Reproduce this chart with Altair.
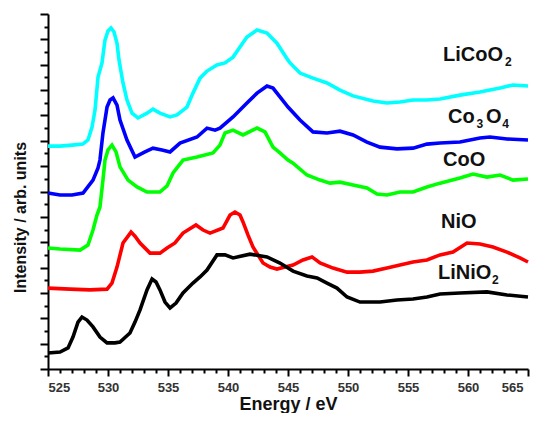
import altair as alt
import pandas as pd

# ---- data (energy in eV, intensity in arbitrary units) ----
licoo2_e = [525.0, 526.0, 527.0, 527.9, 528.33, 528.67, 528.92, 529.17, 529.5, 529.75, 530.0, 530.25,
            530.5, 530.75, 530.92, 531.25, 531.58, 532.0, 532.5, 533.25, 533.75, 534.33, 535.17, 535.75,
            536.58, 537.08, 537.67, 538.25, 539.08, 539.75, 540.42, 541.0, 541.58, 542.42, 543.25, 544.08,
            545.0, 545.17, 546.0, 547.08, 548.25, 549.33, 550.42, 552.08, 553.25, 554.33, 555.42, 556.58,
            557.67, 559.33, 561.0, 562.67, 563.75, 565.0]
licoo2_v = [8.79, 8.79, 8.83, 8.87, 9.03, 9.54, 10.21, 11.51, 12.07, 12.97, 13.33, 13.45,
            13.29, 12.85, 12.18, 11.28, 10.61, 10.09, 9.90, 10.09, 10.25, 10.09, 9.94, 10.02,
            10.33, 10.88, 11.47, 11.75, 11.99, 12.07, 12.30, 12.70, 13.09, 13.37, 13.25, 12.85,
            12.18, 12.07, 11.67, 11.47, 11.28, 11.00, 10.77, 10.57, 10.49, 10.53, 10.61, 10.61,
            10.65, 10.80, 10.92, 11.08, 11.20, 11.16]

co3o4_e = [525.0, 526.0, 527.0, 527.92, 528.75, 529.17, 529.33, 529.58, 529.92, 530.17, 530.42, 530.75,
           531.0, 531.58, 532.25, 533.08, 533.75, 534.5, 535.17, 536.0, 537.42, 538.25, 538.92, 539.33,
           540.42, 541.58, 542.42, 543.25, 543.75, 544.33, 545.0, 546.0, 547.08, 548.25, 549.33, 550.42,
           551.58, 552.67, 554.08, 555.42, 556.58, 557.67, 559.33, 561.0, 561.83, 563.25, 565.0]
co3o4_v = [6.94, 6.86, 6.86, 6.94, 7.45, 7.93, 8.24, 9.31, 10.33, 10.61, 10.69, 10.41,
           9.82, 9.03, 8.36, 8.56, 8.71, 8.64, 8.56, 8.91, 9.15, 9.50, 9.42, 9.50,
           9.94, 10.49, 10.88, 11.16, 11.08, 10.73, 10.33, 9.82, 9.35, 9.31, 9.38, 9.23,
           8.95, 8.75, 8.68, 8.71, 8.87, 8.91, 8.95, 9.11, 9.15, 9.07, 9.03]

coo_e = [525.0, 526.0, 527.67, 528.33, 528.75, 529.08, 529.33, 529.58, 529.75, 530.0, 530.33, 530.67,
         531.0, 531.67, 532.42, 533.25, 534.33, 534.92, 535.42, 536.25, 537.42, 538.75, 539.33, 539.75,
         540.42, 541.25, 542.42, 543.08, 543.75, 544.33, 545.0, 545.42, 546.58, 547.67, 548.5, 549.33,
         550.42, 551.58, 552.42, 553.25, 554.33, 555.42, 556.58, 557.67, 559.33, 560.42, 561.58, 562.67,
         563.75, 565.0]
coo_v = [4.77, 4.73, 4.69, 4.89, 5.48, 6.07, 6.39, 7.45, 8.24, 8.64, 8.83, 8.56,
         7.97, 7.45, 7.18, 6.98, 6.98, 7.22, 7.73, 8.24, 8.36, 8.52, 8.83, 9.31,
         9.42, 9.23, 9.50, 9.35, 8.75, 8.52, 8.24, 8.12, 7.65, 7.45, 7.33, 7.37,
         7.26, 7.14, 6.90, 6.86, 6.98, 6.98, 7.18, 7.33, 7.53, 7.69, 7.57, 7.65,
         7.45, 7.49]

nio_e = [525.0, 526.83, 528.5, 529.92, 530.33, 530.75, 531.25, 531.92, 532.25, 532.67, 533.5, 534.33,
         534.92, 535.58, 536.25, 537.33, 537.92, 538.5, 539.58, 540.17, 540.58, 541.0, 541.25, 541.67,
         542.08, 542.92, 543.5, 544.08, 544.75, 545.42, 546.25, 547.0, 547.67, 548.75, 549.92, 551.0,
         552.08, 553.25, 554.33, 555.42, 556.58, 557.67, 558.75, 559.92, 561.0, 562.08, 563.25, 564.33,
         565.0]
nio_v = [3.19, 3.15, 3.12, 3.15, 3.39, 4.02, 4.97, 5.40, 5.24, 4.97, 4.57, 4.57,
         4.77, 4.97, 5.36, 5.68, 5.48, 5.36, 5.56, 6.07, 6.19, 6.07, 5.80, 5.28,
         4.81, 4.18, 4.02, 3.94, 4.02, 4.10, 4.30, 4.42, 4.18, 3.98, 3.82, 3.82,
         3.86, 3.98, 4.10, 4.22, 4.30, 4.50, 4.61, 4.97, 4.93, 4.81, 4.61, 4.38,
         4.22]

linio2_e = [525.0, 526.0, 526.67, 527.08, 527.5, 527.83, 528.25, 528.75, 529.33, 529.92, 530.58, 531.0,
            531.83, 532.25, 532.67, 533.25, 533.67, 534.0, 534.33, 534.75, 535.17, 535.67, 536.25, 537.08,
            537.67, 538.25, 539.08, 539.75, 540.42, 541.83, 543.25, 544.33, 545.42, 546.58, 547.42, 548.25,
            549.08, 549.92, 551.0, 552.67, 554.08, 555.42, 556.58, 557.67, 559.33, 561.58, 563.25, 565.0]
linio2_v = [0.63, 0.67, 0.83, 1.26, 1.85, 2.05, 1.93, 1.66, 1.26, 1.03, 1.03, 1.06,
            1.42, 1.85, 2.33, 3.12, 3.55, 3.43, 3.12, 2.64, 2.41, 2.60, 3.00, 3.39,
            3.63, 3.90, 4.50, 4.50, 4.38, 4.53, 4.42, 4.18, 3.86, 3.67, 3.59, 3.39,
            3.19, 2.84, 2.64, 2.64, 2.72, 2.76, 2.84, 2.96, 3.00, 3.04, 2.92, 2.84]

series_names = ["LiCoO2", "Co3O4", "CoO", "NiO", "LiNiO2"]
series_colors = ["#00FFFF", "#0000FF", "#00FF00", "#FF0000", "#000000"]

# labels: main text pieces and subscript pieces (energy, intensity)
label_text = ["LiCoO", "Co", "O", "CoO", "NiO", "LiNiO"]
label_x = [557.92, 558.33, 561.5, 557.92, 557.75, 557.5]
label_y = [12.38, 9.94, 9.94, 8.24, 5.80, 3.79]
sub_text = ["2", "3", "4", "2"]
sub_x = [563.08, 560.7, 562.85, 562.0]
sub_y = [12.12, 9.66, 9.66, 3.52]

x_ticks = list(range(525, 566))
y_ticks = [i / 2 for i in range(0, 29)]

rows = []
for name, es, vs in [("LiCoO2", licoo2_e, licoo2_v), ("Co3O4", co3o4_e, co3o4_v),
                     ("CoO", coo_e, coo_v), ("NiO", nio_e, nio_v), ("LiNiO2", linio2_e, linio2_v)]:
    for e, v in zip(es, vs):
        rows.append({"series": name, "energy": e, "intensity": v})
df = pd.DataFrame(rows)
labels = pd.DataFrame({"text": label_text, "energy": label_x, "intensity": label_y})
subs = pd.DataFrame({"text": sub_text, "energy": sub_x, "intensity": sub_y})

x_scale = alt.Scale(domain=[525, 565], nice=False, zero=False)
y_scale = alt.Scale(domain=[0, 14], nice=False, zero=False)

x_axis = alt.Axis(
    title="Energy / eV", values=x_ticks, tickCount=200, format="d",
    labelExpr="datum.value % 5 === 0 ? datum.label : ''",
    labelOverlap=False, grid=False,
    domainColor="black", domainWidth=2, tickColor="black", tickWidth=2,
    tickSize={"condition": {"test": "datum.value % 5 === 0", "value": 7}, "value": 4},
    labelOffset={"condition": {"test": "datum.value === 565", "value": -5}, "value": 0},
    labelFont="Liberation Sans", labelFontSize=13, labelFontWeight="bold", labelColor="#333333",
    labelPadding=5,
    titleFont="Liberation Sans", titleFontSize=18, titleFontWeight="bold", titleColor="#111111",
    titlePadding=1,
)
y_axis = alt.Axis(
    title="Intensity / arb. units", values=y_ticks, tickCount=200, labels=False, grid=False,
    domainColor="black", domainWidth=2, tickColor="black", tickWidth=2,
    tickSize={"condition": {"test": "datum.value % 1 === 0", "value": 8}, "value": 4},
    titleFont="Liberation Sans", titleFontSize=16, titleFontWeight="bold", titleColor="#111111",
    titlePadding=11, titleY=203,
)

lines = alt.Chart(df).mark_line(strokeWidth=3.6, interpolate="linear").encode(
    x=alt.X("energy:Q", scale=x_scale, axis=x_axis),
    y=alt.Y("intensity:Q", scale=y_scale, axis=y_axis),
    color=alt.Color("series:N", scale=alt.Scale(domain=series_names, range=series_colors), legend=None),
    detail="series:N",
)

label_marks = alt.Chart(labels).mark_text(
    align="left", baseline="middle", font="Liberation Sans", fontSize=20, fontWeight="bold", color="#111111"
).encode(x=alt.X("energy:Q", scale=x_scale), y=alt.Y("intensity:Q", scale=y_scale), text="text:N")

sub_marks = alt.Chart(subs).mark_text(
    align="left", baseline="middle", font="Liberation Sans", fontSize=12, fontWeight="bold", color="#111111"
).encode(x=alt.X("energy:Q", scale=x_scale), y=alt.Y("intensity:Q", scale=y_scale), text="text:N")

chart = alt.layer(lines, label_marks, sub_marks).properties(
    width=480, height=355,
    autosize=alt.AutoSizeParams(type="none"),
    padding={"left": 40, "top": 6, "right": 5, "bottom": 44},
).configure_view(stroke=None)

chart.save("out.html", embed_options={"renderer": "svg", "actions": False})
